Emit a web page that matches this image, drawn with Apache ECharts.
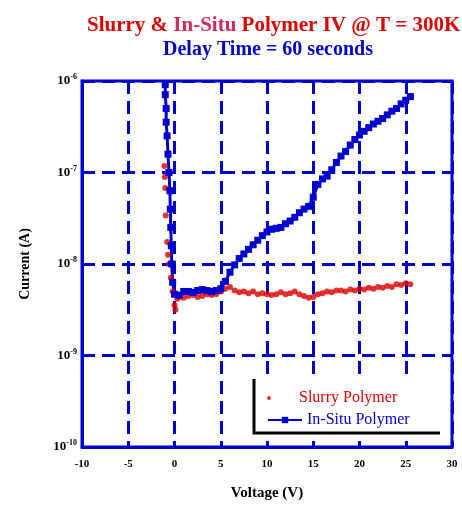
<!DOCTYPE html>
<html>
<head>
<meta charset="utf-8">
<script src="https://cdn.jsdelivr.net/npm/echarts@6/dist/echarts.min.js"></script>
<style>
  html, body { margin: 0; padding: 0; background: #fff; }
  #chart { width: 462px; height: 506px; }
</style>
</head>
<body>
<div id="chart"></div>
<script>
// Applied voltage (V) and measured current, stored as log10(I / A)
const slurryVoltage = [-1.1, -1.05, -1.0, -0.95, -0.8, -0.7, -0.6, -0.4, -0.2, 0.0, 0.1, 0.3,
  0.5, 1.0, 1.5, 2.0, 2.5, 3.0, 3.5, 4.0, 4.5, 5.0, 5.5, 6.0, 6.5, 7.0, 7.5, 8.0, 8.5, 9.0, 9.5,
  10.0, 10.5, 11.0, 11.5, 12.0, 12.5, 13.0, 13.5, 14.0, 14.5, 15.0, 15.5, 16.0, 16.5, 17.0, 17.5,
  18.0, 18.5, 19.0, 19.5, 20.0, 20.5, 21.0, 21.5, 22.0, 22.5, 23.0, 23.5, 24.0, 24.5, 25.0, 25.5];
const slurryLogCurrent = [-6.93, -7.05, -7.17, -7.47, -7.76, -7.90, -8.00, -8.15, -8.30, -8.45, -8.50, -8.38,
  -8.36, -8.37, -8.35, -8.34, -8.36, -8.35, -8.33, -8.34, -8.33, -8.30, -8.27, -8.25, -8.29, -8.31, -8.30, -8.32, -8.30, -8.33, -8.32,
  -8.33, -8.34, -8.33, -8.31, -8.33, -8.32, -8.30, -8.33, -8.35, -8.37, -8.36, -8.33, -8.32, -8.30, -8.31, -8.29,
  -8.29, -8.30, -8.28, -8.29, -8.27, -8.28, -8.26, -8.27, -8.25, -8.26, -8.24, -8.25, -8.22, -8.23, -8.21, -8.22];

const inSituVoltage = [-1.0, -1.0, -0.9, -0.9, -0.8, -0.7, -0.6, -0.5, -0.45, -0.4, -0.35, -0.3, -0.2,
  0.0, 0.5, 1.0, 1.5, 2.0, 2.5, 3.0, 3.5, 4.0, 4.5, 5.0, 5.5, 6.0, 6.5, 7.0, 7.5, 8.0, 8.5, 9.0, 9.5,
  10.0, 10.5, 11.0, 11.5, 12.0, 12.5, 13.0, 13.5, 14.0, 14.5, 15.0, 15.5, 16.0, 16.5, 17.0, 17.5,
  18.0, 18.5, 19.0, 19.5, 20.0, 20.5, 21.0, 21.5, 22.0, 22.5, 23.0, 23.5, 24.0, 24.5, 25.0, 25.5];
const inSituLogCurrent = [-6.04, -6.15, -6.30, -6.45, -6.60, -6.80, -7.00, -7.20, -7.40, -7.60, -7.80, -8.00, -8.20,
  -8.33, -8.34, -8.30, -8.30, -8.31, -8.29, -8.28, -8.29, -8.30, -8.29, -8.27, -8.19, -8.09, -8.01, -7.94, -7.89, -7.84, -7.79, -7.74, -7.69,
  -7.65, -7.62, -7.61, -7.60, -7.56, -7.53, -7.49, -7.44, -7.40, -7.37, -7.27, -7.13, -7.07, -7.04, -6.97, -6.89,
  -6.82, -6.77, -6.70, -6.64, -6.59, -6.55, -6.51, -6.47, -6.44, -6.41, -6.37, -6.33, -6.30, -6.25, -6.21, -6.17];

const seriesNames = ['Slurry Polymer', 'In-Situ Polymer'];
const xTicks = { min: -10, max: 30, step: 5 };
const yDecades = { min: -10, max: -6 };

const toPairs = (vs, logs) => vs.map((v, i) => [v, Math.pow(10, logs[i])]);

const RED = '#dd0000';
const BLUE = '#0000cc';
const SERIF = '"Liberation Serif", "DejaVu Serif", serif';

const chart = echarts.init(document.getElementById('chart'), null, { renderer: 'canvas' });

chart.setOption({
  animation: false,
  backgroundColor: '#ffffff',
  title: [
    {
      left: 82, top: 10,
      text: '{r|Slurry & }{p|In-Situ}{r| Polymer IV @ T = 300K}',
      textStyle: {
        rich: {
          r: { color: RED, fontFamily: SERIF, fontWeight: 'bold', fontSize: 21 },
          p: { color: '#d42a5a', fontFamily: SERIF, fontWeight: 'bold', fontSize: 21 }
        }
      }
    },
    {
      left: 158, top: 35,
      text: 'Delay Time = 60 seconds',
      textStyle: { color: BLUE, fontFamily: SERIF, fontWeight: 'bold', fontSize: 20 }
    }
  ],
  grid: {
    left: 82, top: 81, right: 10, bottom: 54,
    show: true, borderColor: BLUE, borderWidth: 3, backgroundColor: 'transparent'
  },
  xAxis: {
    type: 'value',
    min: xTicks.min, max: xTicks.max, interval: xTicks.step,
    name: 'Voltage (V)', nameLocation: 'middle', nameGap: 39,
    nameTextStyle: { color: '#000', fontFamily: SERIF, fontWeight: 'bold', fontSize: 15 },
    axisLine: { show: true, onZero: false, lineStyle: { color: BLUE, width: 3 } },
    axisTick: { show: false },
    axisLabel: { color: '#000', fontFamily: SERIF, fontWeight: 'bold', fontSize: 11, margin: 12 },
    splitLine: { show: true, lineStyle: { color: BLUE, width: 3, type: [13, 7] } }
  },
  yAxis: {
    type: 'log', logBase: 10,
    min: Math.pow(10, yDecades.min), max: Math.pow(10, yDecades.max), interval: 1,
    name: 'Current (A)', nameLocation: 'middle', nameGap: 50, nameRotate: 90,
    nameTextStyle: { color: '#000', fontFamily: SERIF, fontWeight: 'bold', fontSize: 14 },
    axisLine: { show: true, onZero: false, lineStyle: { color: BLUE, width: 3 } },
    axisTick: { show: false },
    axisLabel: {
      margin: 5,
      formatter: (v) => '{b|10}{s|' + Math.round(Math.log10(v)) + '}',
      rich: {
        b: { color: '#000', fontFamily: SERIF, fontWeight: 'bold', fontSize: 13 },
        s: { color: '#000', fontFamily: SERIF, fontWeight: 'bold', fontSize: 8, padding: [0, 0, 8, 0] }
      }
    },
    splitLine: { show: true, lineStyle: { color: BLUE, width: 3, type: [13, 7] } }
  },
  legend: [
    {
      data: [seriesNames[0]],
      left: 262, top: 385,
      itemWidth: 34, itemHeight: 4, itemGap: 6,
      textStyle: { color: RED, fontFamily: SERIF, fontSize: 16, padding: [0, 0, 0, 8] },
      z: 5
    },
    {
      data: [seriesNames[1]],
      left: 262, top: 407,
      itemWidth: 34, itemHeight: 8, itemGap: 6,
      textStyle: { color: BLUE, fontFamily: SERIF, fontSize: 16 },
      z: 5
    }
  ],
  graphic: [
    {
      type: 'rect', z: 3,
      shape: { x: 254, y: 379, width: 190, height: 54 },
      style: { fill: '#ffffff' }
    },
    {
      type: 'polyline', z: 3,
      shape: { points: [[254, 379], [254, 433], [440, 433]] },
      style: { stroke: '#000', lineWidth: 3, fill: null }
    }
  ],
  series: [
    {
      name: seriesNames[0],
      type: 'scatter',
      data: toPairs(slurryVoltage, slurryLogCurrent),
      symbol: 'circle', symbolSize: 6,
      itemStyle: { color: RED },
      z: 2
    },
    {
      name: seriesNames[1],
      type: 'line',
      data: toPairs(inSituVoltage, inSituLogCurrent),
      symbol: 'rect', symbolSize: 7, showSymbol: true,
      lineStyle: { color: BLUE, width: 3 },
      itemStyle: { color: BLUE },
      z: 2
    }
  ]
});
</script>
</body>
</html>
